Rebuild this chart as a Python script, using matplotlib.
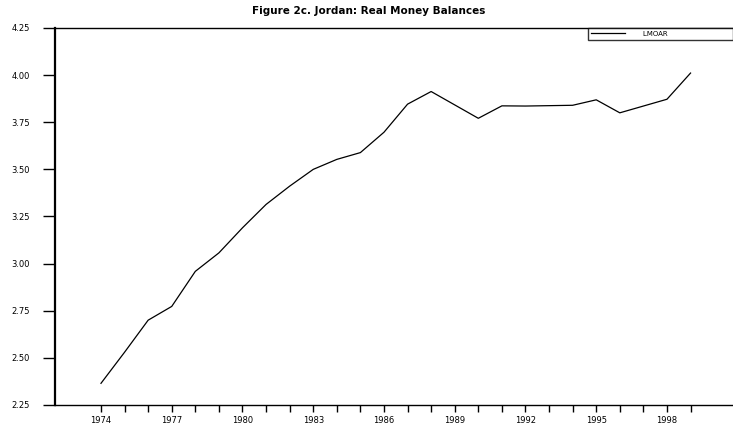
import matplotlib
matplotlib.use("Agg")
import matplotlib.pyplot as plt

years = list(range(1974, 2000))
real_money = [2.365, 2.53, 2.70, 2.773, 2.959, 3.057, 3.19, 3.314, 3.411, 3.50,
              3.553, 3.589, 3.697, 3.846, 3.913, 3.842, 3.771, 3.837, 3.836, 3.838,
              3.840, 3.869, 3.800, 3.836, 3.872, 4.011]
series_label = "LMOAR"
title = "Figure 2c. Jordan: Real Money Balances"
yticks = [2.25, 2.50, 2.75, 3.00, 3.25, 3.50, 3.75, 4.00, 4.25]
xtick_labels = [1974, 1977, 1980, 1983, 1986, 1989, 1992, 1995, 1998]

fig = plt.figure(figsize=(7.33, 4.25), dpi=100)
ax = fig.add_axes([55/733, 1 - 405/425, 1 - 55/733, (405 - 28)/425])
ax.plot(years, real_money, color="black", lw=0.9, label=series_label + " " * 28)
ax.set_xlim(1972.05, 2000.8)
ax.set_ylim(2.25, 4.25)
ax.set_yticks(yticks)
ax.set_yticklabels([f"{v:.2f}" for v in yticks], fontsize=6)
ax.set_xticks(list(range(1974, 2000)))
ax.set_xticklabels([str(y) if y in xtick_labels else "" for y in range(1974, 2000)], fontsize=6)
ax.tick_params(axis="y", direction="out", length=9, width=1, pad=9)
ax.tick_params(axis="x", direction="out", length=5, width=1, pad=3)
ax.spines["right"].set_visible(False)
ax.spines["left"].set_linewidth(1.6)
ax.spines["top"].set_linewidth(1.0)
ax.spines["bottom"].set_linewidth(1.0)
leg = ax.legend(loc="upper right", bbox_to_anchor=(1.0, 1.0), borderaxespad=0,
                fancybox=False, fontsize=5, frameon=True, handlelength=5,
                handletextpad=2.5, borderpad=0.4, edgecolor="black")
leg.get_frame().set_linewidth(1.0)
fig.text(369/733, 1 - 11/425, title, ha="center", va="center",
         fontsize=7.5, fontweight="bold", fontfamily="DejaVu Sans")
fig.savefig("out.png", dpi=100)
